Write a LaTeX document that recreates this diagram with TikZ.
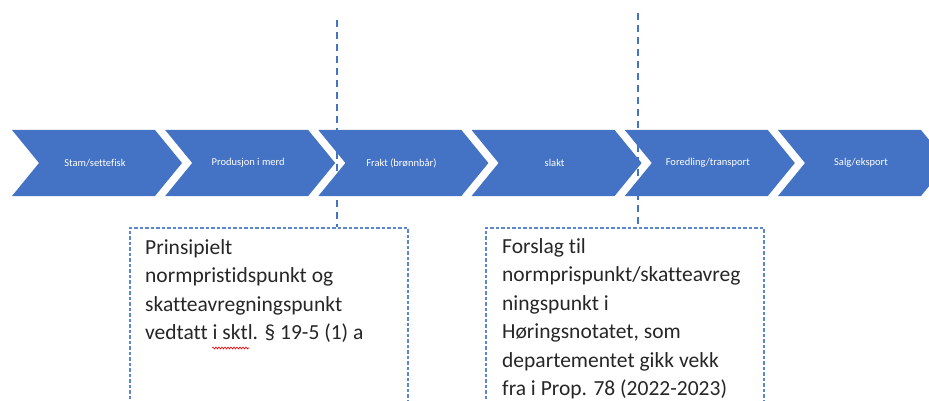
\documentclass[tikz,border=0pt]{standalone}
\usepackage{fontspec}
\setmainfont{Carlito}[Ligatures=NoCommon]
\usetikzlibrary{positioning, decorations.pathmorphing}

\definecolor{wordblue}{HTML}{4472C4}
\definecolor{boxblue}{HTML}{5B86D0}

\begin{document}
\begin{tikzpicture}[x=1pt, y=-1pt]
\tikzstyle{stage}=[fill=wordblue, draw=none]
\tikzstyle{stagetext}=[text=white, font=\fontsize{10.5}{12}\selectfont, inner sep=0]
\tikzstyle{notebox}=[draw=boxblue, line width=1.5pt, dash pattern=on 3.5pt off 2pt, minimum width=278pt, minimum height=200pt, inner sep=0, anchor=north west]
\tikzstyle{notetext}=[anchor=north west, align=left, inner sep=0, text=black!85, font=\fontsize{21.5}{28.5}\selectfont]
\tikzstyle{guide}=[draw=wordblue, line width=1.3pt, dash pattern=on 7pt off 5pt]

\useasboundingbox (0,0) rectangle (929,401);

\def \step {153.2}
\def \top {130}
\def \bot {196}
\def \mid {163}

% chevrons of the chain
\foreach \lbl [count=\i] in {Stam/settefisk, Produsjon i merd, Frakt (brønnbår), slakt, Foredling/transport, Salg/eksport} {
  \pgfmathsetmacro{\xa}{12+(\i-1)*\step}
  \path[stage] (\xa,\top) -- (\xa+143,\top) -- (\xa+170,\mid) -- (\xa+143,\bot) -- (\xa,\bot) -- (\xa+27,\mid) -- cycle;
  \node[stagetext] (stage\i) at (\xa+83,\mid) {\lbl};
}

% notes
\node[notebox] (box1) at (129,227) {};
\node[notebox] (box2) at (485,227) {};

\node[notetext] (note1) at ([xshift=16pt, yshift=-12pt]box1.north west)
  {Prinsipielt\\normpristidspunkt og\\skatteavregningspunkt\\vedtatt i sktl. § 19-5 (1) a};
\node[notetext] (note2) at ([xshift=17pt, yshift=-11pt]box2.north west)
  {Forslag til\\normprispunkt/skatteavreg\\ningspunkt i\\Høringsnotatet, som\\departementet gikk vekk\\fra i Prop. 78 (2022-2023)};

% spelling mark
\draw[red, line width=0.6pt, decorate, decoration={snake, amplitude=1pt, segment length=3pt}] (212,348) -- (249,348);

% dividers
\coordinate (cut1) at (337,20);
\coordinate (cut2) at (638,13);
\path[guide] (cut1) -- (cut1 |- box1.north);
\path[guide] (cut2) -- (cut2 |- box2.north);

\end{tikzpicture}
\end{document}
